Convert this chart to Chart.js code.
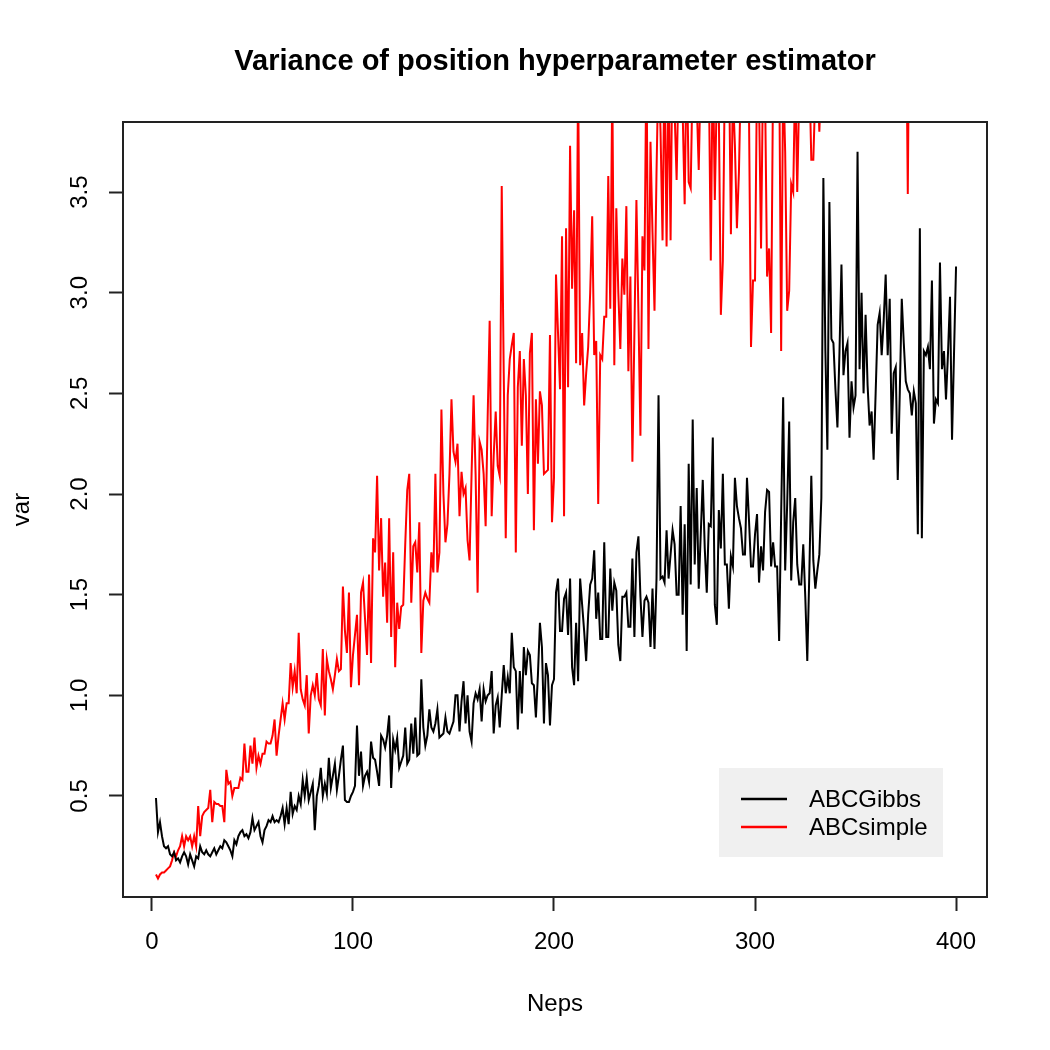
<!DOCTYPE html>
<html lang="en">
<head>
<meta charset="UTF-8">
<title>Variance of position hyperparameter estimator</title>
<script src="https://cdn.jsdelivr.net/npm/chart.js"></script>
<style>
  body { margin: 0; background: #fff; }
  #c { display: block; }
</style>
</head>
<body>
<canvas id="c" width="1050" height="1050"></canvas>
<script>
// x = number of episodes (2..400)
const neps = Array.from({length: 399}, (_, i) => i + 2);

const gibbs = [
  0.49,0.32,0.37,0.30,0.25,0.24,0.25,0.21,0.20,0.22,
  0.18,0.19,0.17,0.20,0.22,0.20,0.16,0.21,0.18,0.15,
  0.20,0.19,0.25,0.22,0.21,0.23,0.21,0.20,0.22,0.24,
  0.21,0.23,0.25,0.24,0.28,0.27,0.25,0.23,0.20,0.28,
  0.26,0.30,0.32,0.33,0.30,0.31,0.29,0.32,0.39,0.33,
  0.35,0.37,0.30,0.27,0.33,0.35,0.38,0.37,0.40,0.37,
  0.38,0.37,0.40,0.44,0.36,0.44,0.36,0.52,0.41,0.45,
  0.43,0.50,0.46,0.58,0.50,0.59,0.48,0.52,0.56,0.33,
  0.50,0.55,0.64,0.50,0.56,0.51,0.69,0.54,0.60,0.66,
  0.53,0.60,0.68,0.75,0.48,0.47,0.47,0.50,0.52,0.55,
  0.85,0.60,0.72,0.55,0.60,0.62,0.57,0.77,0.69,0.68,
  0.62,0.55,0.80,0.78,0.74,0.80,0.90,0.54,0.78,0.73,
  0.79,0.64,0.67,0.70,0.84,0.66,0.68,0.86,0.71,0.89,
  0.70,0.71,1.08,0.84,0.75,0.80,0.93,0.84,0.82,0.86,
  0.93,0.79,0.80,0.81,0.89,0.82,0.81,0.84,0.87,1.00,
  1.00,0.82,0.97,1.07,0.86,1.00,0.82,0.77,0.96,1.01,
  0.98,1.03,0.87,1.03,0.97,1.00,1.01,1.12,0.81,0.95,
  0.99,0.84,1.00,1.15,1.01,1.09,1.01,1.31,1.14,1.12,
  0.83,1.12,0.91,1.24,1.10,1.22,1.20,1.06,1.05,0.89,
  1.10,1.36,1.24,0.86,1.16,1.10,0.85,1.05,1.08,1.51,
  1.58,1.32,1.32,1.48,1.51,1.30,1.58,1.14,1.05,1.36,
  1.07,1.58,1.45,1.32,1.17,1.40,1.55,1.58,1.72,1.38,
  1.51,1.28,1.28,1.76,1.29,1.29,1.63,1.42,1.56,1.52,
  1.25,1.17,1.49,1.49,1.51,1.34,1.34,1.68,1.29,1.71,
  1.79,1.49,1.29,1.47,1.49,1.46,1.24,1.53,1.23,1.58,
  2.49,1.58,1.59,1.56,1.82,1.58,1.70,1.82,1.75,1.50,
  1.50,1.94,1.40,1.85,1.22,2.15,1.55,2.37,1.65,2.03,
  1.53,1.80,2.07,1.73,1.51,1.85,1.84,2.28,1.45,1.35,
  1.92,1.73,2.10,1.65,1.65,1.43,1.69,1.64,2.08,1.94,
  1.88,1.83,1.70,1.70,2.08,1.87,1.64,1.64,1.80,1.90,
  1.56,1.74,1.62,1.91,2.02,2.01,1.64,1.76,1.64,1.64,
  1.27,1.90,2.48,1.62,1.95,2.36,1.57,1.86,1.98,1.65,
  1.55,1.55,1.75,1.49,1.17,1.60,2.09,1.67,1.53,1.62,
  1.70,1.98,3.57,2.71,2.22,3.45,2.77,2.75,2.52,2.33,
  2.70,3.14,2.59,2.71,2.75,2.28,2.56,2.43,2.49,3.70,
  2.62,3.00,2.50,2.89,2.54,2.34,2.41,2.17,2.50,2.84,
  2.90,2.69,2.86,3.09,2.69,2.97,2.30,2.60,2.63,2.07,
  2.50,2.97,2.75,2.56,2.52,2.50,2.39,2.51,2.45,1.80,
  3.32,1.78,2.71,2.69,2.73,2.62,3.06,2.35,2.47,2.45,
  3.15,2.62,2.71,2.47,2.70,2.98,2.27,2.70,3.13
];

const simple = [
  0.11,0.09,0.11,0.12,0.12,0.13,0.14,0.15,0.18,0.22,
  0.20,0.23,0.25,0.30,0.25,0.30,0.28,0.30,0.25,0.30,
  0.25,0.45,0.30,0.40,0.42,0.43,0.44,0.53,0.37,0.47,
  0.46,0.46,0.45,0.45,0.37,0.63,0.56,0.57,0.50,0.54,
  0.54,0.54,0.59,0.58,0.76,0.62,0.62,0.75,0.66,0.79,
  0.64,0.70,0.66,0.71,0.71,0.77,0.76,0.76,0.80,0.88,
  0.70,0.80,0.88,0.96,0.88,0.96,0.96,1.16,1.04,1.12,
  1.01,1.31,1.03,0.98,0.95,1.10,0.81,1.00,1.05,1.00,
  1.11,0.98,0.95,1.23,0.90,1.18,1.12,1.08,1.03,1.10,
  1.18,1.12,1.13,1.54,1.32,1.21,1.51,1.04,1.20,1.30,
  1.40,1.05,1.51,1.56,1.38,1.20,1.60,1.16,1.78,1.71,
  2.09,1.62,1.88,1.49,1.66,1.36,1.88,1.29,1.71,1.14,
  1.46,1.33,1.44,1.45,1.75,2.02,2.10,1.46,1.74,1.76,
  1.61,1.86,1.21,1.47,1.51,1.48,1.46,1.71,1.61,2.10,
  1.61,1.71,2.42,2.00,1.76,1.85,2.10,2.47,2.21,2.16,
  2.25,1.89,2.11,2.00,2.03,1.77,1.67,2.10,2.49,2.10,
  1.51,2.26,2.22,2.10,1.84,2.38,2.86,1.89,2.19,2.41,
  2.14,2.09,3.53,2.60,1.78,2.49,2.67,2.74,2.80,1.71,
  2.53,2.71,2.24,2.67,2.49,2.00,2.70,2.80,1.82,2.47,
  2.15,2.51,2.44,2.10,2.11,2.12,2.79,1.86,2.08,3.09,
  2.80,2.52,3.28,1.89,3.32,2.53,3.73,3.02,3.41,2.65,
  4.10,2.64,2.80,2.44,2.60,2.73,3.00,3.38,2.69,2.76,
  1.95,2.69,2.67,2.88,2.88,3.58,2.92,4.05,2.64,3.42,
  3.00,2.72,3.17,2.99,3.43,2.61,3.08,2.16,2.80,3.46,
  2.90,2.29,3.28,3.11,4.20,2.72,3.75,3.30,2.91,3.60,
  4.15,3.80,3.26,4.20,3.23,4.10,3.26,4.30,3.90,3.56,
  4.10,4.00,3.90,3.44,4.20,3.55,3.52,4.10,4.00,3.95,
  3.61,4.10,4.20,4.00,3.95,4.10,3.16,4.20,3.46,4.00,
  3.90,2.89,3.16,4.10,3.95,4.20,3.29,4.00,3.73,3.32,
  3.60,4.10,4.00,3.95,4.10,3.90,2.73,3.06,3.06,4.10,
  3.95,3.22,4.10,4.00,3.08,3.22,2.80,4.10,4.00,3.95,
  4.20,2.71,4.10,3.70,2.91,3.01,3.54,3.50,4.10,3.50,
  4.00,4.10,4.20,3.95,4.00,4.10,3.66,3.66,4.00,4.10,
  3.80,4.10,4.30,4.20,4.40,4.10,4.30,4.50,4.20,4.40,
  4.30,4.60,4.20,4.50,4.40,4.30,4.70,4.20,4.50,4.60,
  4.40,4.30,4.80,4.50,4.20,4.60,4.40,4.70,4.30,4.50,
  4.60,4.40,4.90,4.30,4.70,4.50,4.40,4.80,4.60,4.30,
  4.70,4.50,4.40,4.60,3.49,4.80,4.50,4.70,4.40,4.90,
  4.60,4.30,4.80,4.50,4.70,4.60,5.00,4.40,4.80,4.70,
  4.50,4.90,4.60,4.80,4.40,5.00,4.70,4.60,4.90
];

const xTicks = [0, 100, 200, 300, 400];
const yTicks = [0.5, 1.0, 1.5, 2.0, 2.5, 3.0, 3.5];
const titleText = 'Variance of position hyperparameter estimator';

Chart.defaults.font.family = '"Liberation Sans", Arial, sans-serif';
Chart.defaults.color = '#000';

// box around the plot region, like R's box()
const frame = {
  id: 'frame',
  afterDatasetsDraw(chart) {
    const {ctx, chartArea: a} = chart;
    ctx.save();
    ctx.strokeStyle = '#222';
    ctx.lineWidth = 2;
    ctx.strokeRect(a.left, a.top, a.right - a.left, a.bottom - a.top);
    ctx.restore();
  }
};

// main title centred over the plot region (R centres it there, not on the canvas)
const mainTitle = {
  id: 'mainTitle',
  afterDraw(chart) {
    const {ctx, chartArea: a} = chart;
    ctx.save();
    ctx.font = 'bold 29px "Liberation Sans", Arial, sans-serif';
    ctx.fillStyle = '#000';
    ctx.textAlign = 'center';
    ctx.textBaseline = 'middle';
    ctx.fillText(titleText, (a.left + a.right) / 2, 62);
    ctx.restore();
  }
};

// legend with grey background in the bottom right corner
const boxLegend = {
  id: 'boxLegend',
  afterDraw(chart) {
    const {ctx, chartArea: a} = chart;
    const left = a.right - 268, top = a.bottom - 129;
    ctx.save();
    ctx.fillStyle = '#f0f0f0';
    ctx.fillRect(left, top, 224, 89);
    ctx.font = '24px "Liberation Sans", Arial, sans-serif';
    ctx.textBaseline = 'middle';
    chart.data.datasets.forEach((ds, i) => {
      const y = top + 31 + i * 28;
      ctx.strokeStyle = ds.borderColor;
      ctx.lineWidth = 2.5;
      ctx.beginPath();
      ctx.moveTo(left + 22, y);
      ctx.lineTo(left + 68, y);
      ctx.stroke();
      ctx.fillStyle = '#000';
      ctx.fillText(ds.label, left + 90, y + 1);
    });
    ctx.restore();
  }
};

const ctx = document.getElementById('c').getContext('2d');
const myChart = new Chart(ctx, {
  type: 'line',
  data: {
    datasets: [
      {
        label: 'ABCGibbs',
        data: neps.map((x, i) => ({x: x, y: gibbs[i]})),
        borderColor: '#000000',
        borderWidth: 2,
        pointRadius: 0,
        tension: 0
      },
      {
        label: 'ABCsimple',
        data: neps.map((x, i) => ({x: x, y: simple[i]})),
        borderColor: '#ff0000',
        borderWidth: 2,
        pointRadius: 0,
        tension: 0
      }
    ]
  },
  options: {
    responsive: false,
    animation: false,
    layout: { padding: { left: 0, right: 63, top: 122, bottom: 0 } },
    plugins: {
      legend: { display: false },
      tooltip: { enabled: false },
      title: { display: false }
    },
    scales: {
      x: {
        type: 'linear',
        min: -14.4,
        max: 415.4,
        afterBuildTicks: (s) => { s.ticks = xTicks.map(v => ({value: v})); },
        afterFit: (s) => { s.height = 153; },
        grid: { drawOnChartArea: false, tickLength: 14, tickColor: '#222', tickWidth: 2 },
        border: { display: false },
        ticks: { font: { size: 24 }, padding: 17, maxRotation: 0, callback: (v) => String(v) },
        title: { display: true, text: 'Neps', font: { size: 24 }, padding: { top: 0, bottom: 31 } }
      },
      y: {
        min: -0.002,
        max: 3.848,
        afterBuildTicks: (s) => { s.ticks = yTicks.map(v => ({value: v})); },
        afterFit: (s) => { s.width = 123; },
        grid: { drawOnChartArea: false, tickLength: 14, tickColor: '#222', tickWidth: 2 },
        border: { display: false },
        ticks: {
          font: { size: 24 }, padding: 12, minRotation: 90, maxRotation: 90,
          crossAlign: 'center',
          callback: (v) => Number(v).toFixed(1)
        },
        title: { display: true, text: 'var', font: { size: 24 }, padding: { top: 8, bottom: 0 } }
      }
    }
  },
  plugins: [frame, mainTitle, boxLegend]
});
</script>
</body>
</html>
